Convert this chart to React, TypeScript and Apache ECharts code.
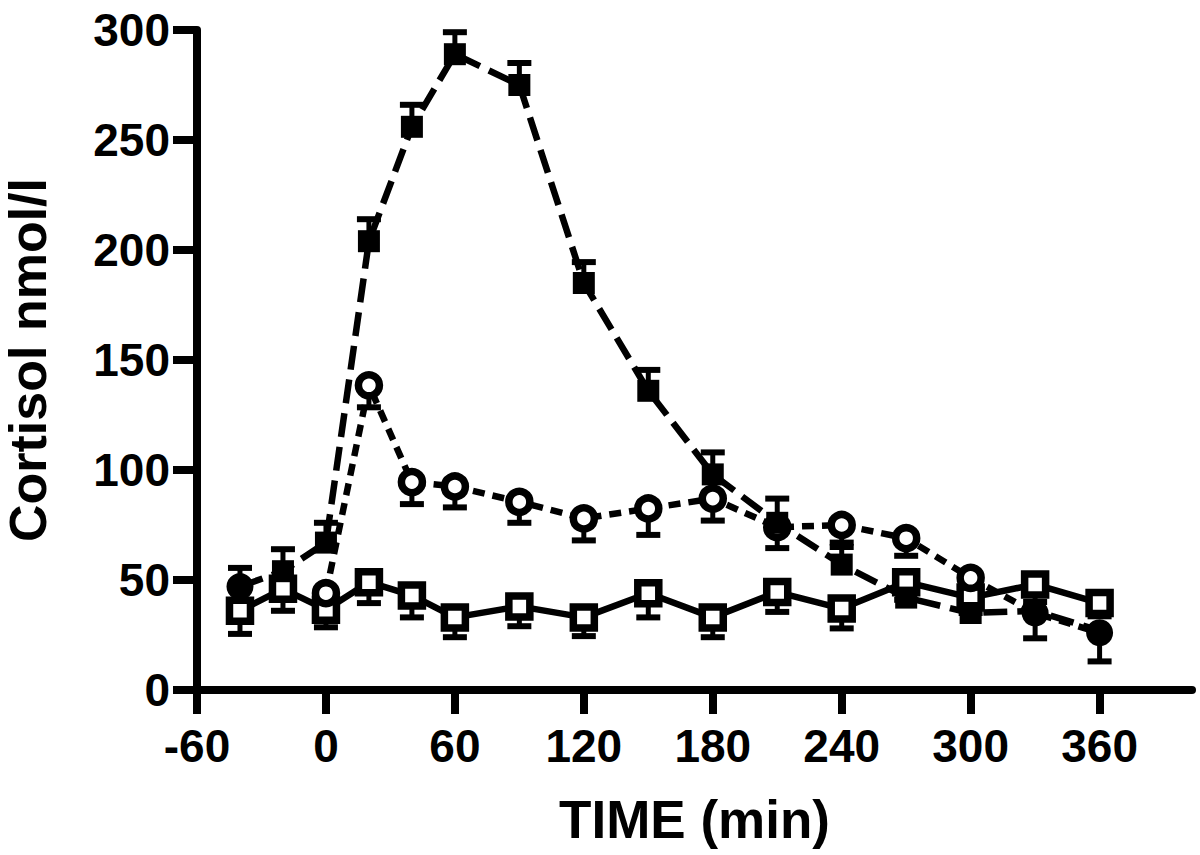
import React, { useEffect, useRef } from "react";
import * as echarts from "echarts";

// tick labels
const xTicks = [-60, 0, 60, 120, 180, 240, 300, 360];
const yTicks = [0, 50, 100, 150, 200, 250, 300];

// Filled squares (long dashes), upward error bars
const timesA = [-40, -20, 0, 20, 40, 60, 90, 120, 150, 180, 210, 240, 270, 300, 330, 360];
const valuesA = [47, 54, 67, 204, 256, 289, 275, 185, 136, 98, 76, 57, 42, 35, 36, 27];
const errA = [8.5, 10, 9, 10, 10, 10, 10, 9.5, 9.5, 10, 11, 10, 8, 6, 0, 0];

// Open circles (short dashes), downward error bars
const timesB = [0, 20, 40, 60, 90, 120, 150, 180, 210, 240, 270, 300, 330, 360];
const valuesB = [44, 138.5, 94.5, 92.5, 85.5, 78, 82.5, 87, 74, 75, 69, 51, 35, 26];
const errB = [6, 10, 10, 9.5, 9.5, 10, 12, 10, 9.5, 10, 8, 6, 0, 0];

// Open squares (solid), downward error bars
const timesC = [-40, -20, 0, 20, 40, 60, 90, 120, 150, 180, 210, 240, 270, 300, 330, 360];
const valuesC = [36, 46, 36.5, 49, 43, 33, 38, 33, 44, 33, 44.5, 37, 49, 42, 48, 39.5];
const errC = [10.5, 10, 8, 9.5, 10, 9, 9, 8.5, 11, 9, 9, 9, 8, 7, 8, 6];

// Filled circles, downward error bars
const timesD = [-40, 330, 360];
const valuesD = [47, 35, 26];
const errD = [0, 11.5, 13];

const FONT = "'Liberation Sans', Arial, sans-serif";

function lineData(times: number[], values: number[], hideUnderD: boolean) {
  return times.map((t, i) =>
    hideUnderD && timesD.includes(t)
      ? { value: [t, values[i]], symbol: "none" }
      : { value: [t, values[i]] }
  );
}

function errData(times: number[], values: number[], errs: number[], dir: number) {
  return times.map((t, i) => [t, values[i], errs[i], dir]);
}

const errorSeries = (data: number[][]) => ({
  type: "custom",
  z: 1,
  silent: true,
  clip: false,
  data,
  encode: { x: 0, y: 1 },
  renderItem: (_params: any, api: any) => {
    const t = api.value(0);
    const v = api.value(1);
    const e = api.value(2);
    const d = api.value(3);
    if (!e) return { type: "group", children: [] };
    const p0 = api.coord([t, v]);
    const p1 = api.coord([t, v + d * e]);
    return {
      type: "group",
      children: [
        {
          type: "line",
          shape: { x1: p0[0], y1: p0[1], x2: p1[0], y2: p1[1] },
          style: { stroke: "#000", lineWidth: 5 },
        },
        {
          type: "line",
          shape: { x1: p1[0] - 12, y1: p1[1], x2: p1[0] + 12, y2: p1[1] },
          style: { stroke: "#000", lineWidth: 6 },
        },
      ],
    };
  },
});

export default function App() {
  const ref = useRef<HTMLDivElement>(null);
  useEffect(() => {
    const chart = echarts.init(ref.current!, null, { renderer: "svg" });
    const labelStyle = {
      fontSize: 46,
      fontWeight: "bold" as const,
      fontFamily: FONT,
      color: "#000",
    };
    const option: any = {
      animation: false,
      backgroundColor: "#fff",
      grid: { left: 197, right: 8, top: 30, bottom: 165, containLabel: false, outerBoundsMode: "none" },
      xAxis: {
        type: "value",
        min: -60,
        max: 403,
        interval: 60,
        splitLine: { show: false },
        axisLine: { show: true, onZero: false, lineStyle: { color: "#000", width: 8 } },
        axisTick: { show: true, length: 24, customValues: xTicks, lineStyle: { color: "#000", width: 8 } },
        axisLabel: { ...labelStyle, margin: 33, customValues: xTicks },
        name: "TIME (min)",
        nameLocation: "middle",
        nameGap: 103,
        nameTextStyle: { fontSize: 53, fontWeight: "bold", fontFamily: FONT, color: "#000" },
      },
      yAxis: {
        type: "value",
        min: 0,
        max: 300,
        interval: 50,
        splitLine: { show: false },
        axisLine: { show: true, onZero: false, lineStyle: { color: "#000", width: 8 } },
        axisTick: { show: true, length: 24, customValues: yTicks, lineStyle: { color: "#000", width: 8 } },
        axisLabel: { ...labelStyle, margin: 27, customValues: yTicks },
        name: "Cortisol nmol/l",
        nameLocation: "middle",
        nameGap: 143,
        nameTextStyle: { fontSize: 52, fontWeight: "bold", fontFamily: FONT, color: "#000" },
      },
      series: [
        errorSeries(errData(timesA, valuesA, errA, 1)),
        errorSeries(errData(timesB, valuesB, errB, -1)),
        errorSeries(errData(timesC, valuesC, errC, -1)),
        errorSeries(errData(timesD, valuesD, errD, -1)),
        {
          type: "line",
          z: 2,
          data: lineData(timesC, valuesC, false),
          symbol: "rect",
          symbolSize: 21,
          showAllSymbol: true,
          itemStyle: { color: "#fff", borderColor: "#000", borderWidth: 7.5, opacity: 1 },
          lineStyle: { color: "#000", width: 6.5, type: "solid" },
        },
        {
          type: "line",
          z: 3,
          data: lineData(timesB, valuesB, true),
          symbol: "circle",
          symbolSize: 21,
          showAllSymbol: true,
          itemStyle: { color: "#fff", borderColor: "#000", borderWidth: 7.5, opacity: 1 },
          lineStyle: { color: "#000", width: 6.5, type: [12, 8] },
        },
        {
          type: "line",
          z: 4,
          data: lineData(timesA, valuesA, true),
          symbol: "rect",
          symbolSize: 22,
          showAllSymbol: true,
          itemStyle: { color: "#000", opacity: 1 },
          lineStyle: { color: "#000", width: 6.5, type: [24, 10] },
        },
        {
          type: "scatter",
          z: 5,
          data: timesD.map((t, i) => [t, valuesD[i]]),
          symbol: "circle",
          symbolSize: 27,
          itemStyle: { color: "#000", opacity: 1 },
        },
      ],
    };
    chart.setOption(option);
    return () => chart.dispose();
  }, []);
  return (
    <div
      ref={ref}
      style={{ position: "absolute", left: 0, top: 0, width: 1200, height: 855, background: "#fff" }}
    />
  );
}
